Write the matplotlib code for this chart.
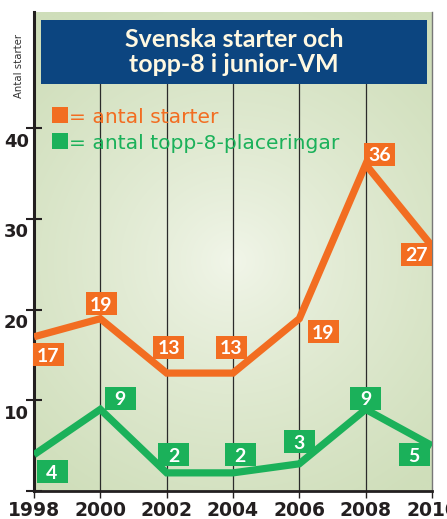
import numpy as np
import matplotlib
matplotlib.use('Agg')
import matplotlib.pyplot as plt
from matplotlib.patches import Rectangle
from matplotlib.transforms import ScaledTranslation

years = [1998, 2000, 2002, 2004, 2006, 2008, 2010]
starter = [17, 19, 13, 13, 19, 36, 27]
topp8 = [4, 9, 2, 2, 3, 9, 5]
yticks = [10, 20, 30, 40]
title = 'Svenska starter och\ntopp-8 i junior-VM'
legend_labels = ['= antal starter', '= antal topp-8-placeringar']
ylabel = 'Antal starter'

# where each value box sits relative to its point (pixels, y up)
starter_off = [(14, -18), (1, 15), (2, 26), (-2, 26), (24, -13), (14, 10), (-16, -8)]
topp8_off = [(18, -17), (20, 11), (7, 18), (7, 18), (0, 22), (0, 11), (-18, -9)]

ORANGE = '#f26d21'
GREEN = '#1bb15a'
NAVY = '#0c4580'
INK = '#231f20'
NARROW = ['Liberation Sans Narrow', 'DejaVu Sans']

W, H = 447, 519
fig = plt.figure(figsize=(W / 100, H / 100), dpi=100)
fig.patch.set_facecolor('white')

ax = fig.add_axes([34 / W, 1 - 491 / H, 398 / W, 479 / H])

# soft radial background
gy, gx = np.mgrid[0:1:200j, 0:1:200j]
r = np.sqrt(((gx - 0.5) / 0.75) ** 2 + ((gy - 0.52) / 0.6) ** 2)
t = np.clip(r, 0, 1) ** 0.8
edge = np.array([207, 222, 186]) / 255
centre = np.array([242, 246, 234]) / 255
grad = centre + (edge - centre) * t[:, :, None]
ax.imshow(grad, extent=[0, 1, 0, 1], transform=ax.transAxes, aspect='auto',
          zorder=0, interpolation='bilinear')

ax.set_xlim(1998, 2010)
ax.set_ylim(0, 479 / 9.07)

for x in years[1:-1]:
    ax.axvline(x, ymin=0, ymax=(491 - 84) / 479, color='#2b2b2b', lw=0.9, zorder=1)

ax.plot(years, starter, color=ORANGE, lw=5.2, solid_joinstyle='miter',
        solid_capstyle='butt', zorder=3)
ax.plot(years, topp8, color=GREEN, lw=5.2, solid_joinstyle='miter',
        solid_capstyle='butt', zorder=3)


def value_boxes(vals, offs, colour):
    for x, v, (dx, dy) in zip(years, vals, offs):
        box = Rectangle((dx - 15.5, dy - 11.5), 31, 23, facecolor=colour,
                        edgecolor='none', zorder=4, clip_on=False,
                        transform=ScaledTranslation(x, v, ax.transData))
        ax.add_patch(box)
        ax.annotate(str(v), (x, v), xytext=(dx, dy - 7), textcoords='offset pixels',
                    ha='center', va='baseline', color='white', fontsize=14,
                    fontweight='bold', family='Lato', zorder=5)


value_boxes(starter, starter_off, ORANGE)
value_boxes(topp8, topp8_off, GREEN)

# axes styling
ax.spines['top'].set_visible(False)
ax.spines['right'].set_color('#777777')
ax.spines['right'].set_linewidth(1)
ax.spines['left'].set_linewidth(2.2)
ax.spines['left'].set_color(INK)
ax.spines['bottom'].set_linewidth(2)
ax.spines['bottom'].set_color(INK)

ax.set_yticks([0] + yticks)
ax.tick_params(axis='y', direction='inout', length=11, width=1.5, color=INK,
               labelleft=False)
for v in yticks:
    ax.annotate(str(v), (0, v), xycoords=('axes fraction', 'data'),
                xytext=(-5, -13.5), textcoords='offset pixels', ha='right',
                va='center', fontsize=13, fontweight='bold', family=NARROW,
                color=INK)

ax.set_xticks(years)
ax.set_xticklabels([str(y) for y in years], fontsize=13.5, fontweight='bold',
                   family=NARROW, color=INK)
ax.tick_params(axis='x', direction='out', length=5, width=1, color=INK, pad=2.5)

# title block
fig.add_artist(Rectangle((41 / W, 1 - 84 / H), 386 / W, 64 / H, facecolor=NAVY,
                         edgecolor='none', transform=fig.transFigure, zorder=10))
fig.text(234 / W, 1 - 52 / H, title, ha='center', va='center', color='#fff8e1',
         fontsize=18, fontweight='bold', family='Lato', linespacing=1.15, zorder=11)

# legend
for (base, colour, label) in [(123, ORANGE, legend_labels[0]),
                              (149, GREEN, legend_labels[1])]:
    fig.add_artist(Rectangle((52 / W, 1 - base / H), 16 / W, 16 / H,
                             facecolor=colour, edgecolor='none',
                             transform=fig.transFigure, zorder=10))
    fig.text(69 / W, 1 - base / H, label, ha='left', va='baseline', color=colour,
             fontsize=14.6, family='DejaVu Sans', zorder=11)

fig.text(19 / W, 1 - 66 / H, ylabel, rotation=90, ha='center', va='center',
         fontsize=7.3, color='#333333')

fig.savefig('out.png', dpi=100)
